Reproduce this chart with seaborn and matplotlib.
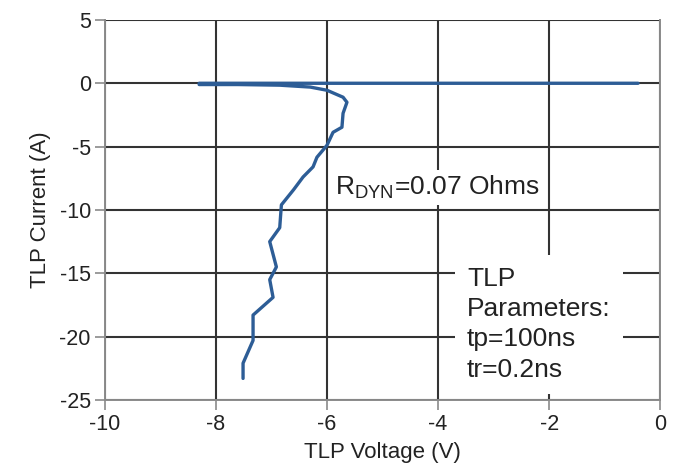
import matplotlib
matplotlib.use("Agg")
import matplotlib.pyplot as plt
import seaborn as sns
import pandas as pd

# TLP trace (voltage in V, current in A)
voltage = [-0.4, -8.3, -8.3, -7.6, -6.85, -6.3, -6.0, -5.71, -5.64, -5.71,
           -5.73, -5.89, -6.0, -6.18, -6.25, -6.43, -6.6, -6.82, -6.85,
           -7.03, -6.91, -7.03, -6.97, -7.33, -7.33, -7.51, -7.51]
current = [0, 0, -0.1, -0.1, -0.15, -0.3, -0.55, -1.1, -1.5, -2.37,
           -3.47, -3.87, -4.9, -5.84, -6.6, -7.4, -8.4, -9.6, -11.4,
           -12.5, -14.5, -15.5, -16.9, -18.3, -20.3, -22.1, -23.3]

x_ticks = [-10, -8, -6, -4, -2, 0]
y_ticks = [5, 0, -5, -10, -15, -20, -25]

df = pd.DataFrame({"TLP Voltage (V)": voltage, "TLP Current (A)": current})

sns.set_style("white")
plt.rcParams["font.family"] = ["Liberation Sans", "DejaVu Sans"]
plt.rcParams["mathtext.fontset"] = "custom"
plt.rcParams["mathtext.rm"] = "Liberation Sans"
plt.rcParams["axes.unicode_minus"] = False

fig = plt.figure(figsize=(6.8, 4.75), dpi=100)
ax = fig.add_axes([0.154, 0.158, 0.817, 0.800])

sns.lineplot(data=df, x="TLP Voltage (V)", y="TLP Current (A)", sort=False,
             estimator=None, color="#2d5d96", linewidth=2.4, ax=ax, zorder=3)

ax.set_xlim(-10, 0)
ax.set_ylim(-25, 5)
ax.set_xticks(x_ticks)
ax.set_yticks(y_ticks)
ax.grid(True, color="#333333", linewidth=1.5)
ax.set_axisbelow(True)
ax.spines["top"].set_visible(False)
for side in ["left", "bottom", "right"]:
    ax.spines[side].set_color("#8a8a8a")
    ax.spines[side].set_linewidth(1.4)
    ax.spines[side].set_zorder(4)
ax.tick_params(axis="both", direction="out", length=7, width=1.2, color="#8a8a8a",
               bottom=True, left=True, labelsize=15.5, labelcolor="#222222", pad=3)
ax.set_xlabel("TLP Voltage (V)", fontsize=16, color="#222222", labelpad=5)
ax.set_ylabel("TLP Current (A)", fontsize=16, color="#222222", labelpad=6)

ax.text(-5.86, -8.8, r"R$_{\mathregular{DYN}}$=0.07 Ohms", fontsize=19, color="#222222",
        va="baseline", ha="left", zorder=5,
        bbox=dict(facecolor="white", edgecolor="none", pad=3))
ax.text(-3.48, -14.5, "TLP\nParameters:\ntp=100ns\ntr=0.2ns", fontsize=19,
        color="#222222", va="top", ha="left", linespacing=1.33, zorder=5,
        bbox=dict(facecolor="white", edgecolor="none", pad=9))

fig.savefig("out.png", dpi=100)
